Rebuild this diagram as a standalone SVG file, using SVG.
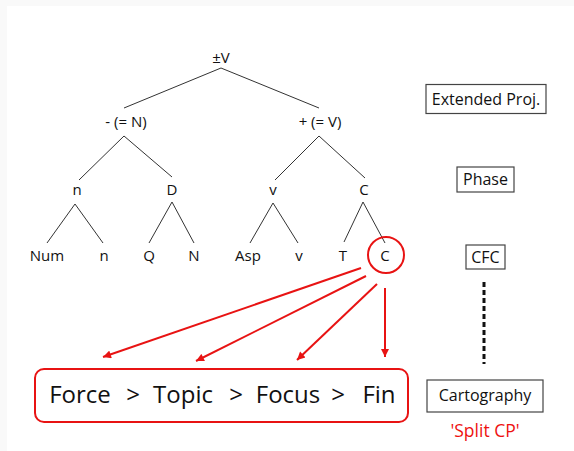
<svg xmlns="http://www.w3.org/2000/svg" width="574" height="451" viewBox="0 0 574 451">
  <defs>
    <style>
      .lbl { font-family: "Open Sans", "Noto Sans", "Liberation Sans", sans-serif; font-size: 15px; fill: #111; text-anchor: middle; }
      .box { fill: #fff; stroke: #444; stroke-width: 1.2; }
      .boxt { font-family: "Open Sans", "Noto Sans", "Liberation Sans", sans-serif; font-size: 16px; fill: #111; text-anchor: middle; }
      .tree line { stroke: #333; stroke-width: 1; }
      .arr line { stroke: #e81313; stroke-width: 2; marker-end: url(#ah); }
      .big { font-family: "Open Sans", "Noto Sans", "Liberation Sans", sans-serif; font-size: 24px; fill: #111; text-anchor: middle; }
      .red { font-family: "Open Sans", "Noto Sans", "Liberation Sans", sans-serif; font-size: 17.5px; fill: #ee1111; text-anchor: middle; }
    </style>
    <marker id="ah" viewBox="0 0 10 10" refX="10" refY="5" markerWidth="10" markerHeight="8" markerUnits="userSpaceOnUse" orient="auto">
      <path d="M0,0 L10,5 L0,10 z" fill="#e81313"/>
    </marker>
  </defs>
  <rect x="0" y="0" width="574" height="451" fill="#f9f9f9"/>
  <rect x="7" y="6" width="567" height="445" fill="#fff"/>

  <g id="connectors">
    <g class="tree">
      <line x1="221" y1="68" x2="124" y2="108"/>
      <line x1="221" y1="68" x2="319" y2="108"/>
      <line x1="124" y1="136" x2="79" y2="180"/>
      <line x1="124" y1="136" x2="172" y2="177"/>
      <line x1="75" y1="204" x2="47" y2="243"/>
      <line x1="75" y1="204" x2="103" y2="243"/>
      <line x1="172" y1="202" x2="149" y2="243"/>
      <line x1="172" y1="202" x2="194" y2="243"/>
      <line x1="319" y1="136" x2="275" y2="180"/>
      <line x1="319" y1="136" x2="365" y2="178"/>
      <line x1="273" y1="203" x2="250" y2="243"/>
      <line x1="273" y1="203" x2="298" y2="243"/>
      <line x1="363" y1="202" x2="344" y2="242"/>
      <line x1="363" y1="202" x2="385" y2="243"/>
    </g>
    <g class="arr">
      <line x1="361" y1="268" x2="103" y2="357"/>
      <line x1="366" y1="276" x2="196" y2="361"/>
      <line x1="377" y1="284" x2="297" y2="360"/>
      <line x1="385" y1="288" x2="385" y2="357"/>
    </g>
    <line x1="484" y1="282" x2="484" y2="364" stroke="#111" stroke-width="3" stroke-dasharray="5 3"/>
  </g>

  <g id="n-root"><text class="lbl" x="221" y="63">±V</text></g>
  <g id="n-minusN"><text class="lbl" x="126" y="127">- (= N)</text></g>
  <g id="n-plusV"><text class="lbl" x="320" y="127">+ (= V)</text></g>
  <g id="n-n"><text class="lbl" x="77" y="195">n</text></g>
  <g id="n-D"><text class="lbl" x="172" y="195">D</text></g>
  <g id="n-v"><text class="lbl" x="273" y="195">v</text></g>
  <g id="n-C"><text class="lbl" x="364" y="195">C</text></g>
  <g id="n-Num"><text class="lbl" x="47" y="261">Num</text></g>
  <g id="n-n2"><text class="lbl" x="104" y="261">n</text></g>
  <g id="n-Q"><text class="lbl" x="149" y="261">Q</text></g>
  <g id="n-N"><text class="lbl" x="194" y="261">N</text></g>
  <g id="n-Asp"><text class="lbl" x="248" y="261">Asp</text></g>
  <g id="n-v2"><text class="lbl" x="299" y="261">v</text></g>
  <g id="n-T"><text class="lbl" x="343" y="261">T</text></g>
  <g id="n-C2">
    <circle cx="386" cy="255" r="18" fill="none" stroke="#e81313" stroke-width="2"/>
    <text class="lbl" x="385" y="261">C</text>
  </g>

  <g id="n-extproj">
    <rect class="box" x="426" y="84.5" width="120" height="29"/>
    <text class="boxt" x="486" y="104.5">Extended Proj.</text>
  </g>
  <g id="n-phase">
    <rect class="box" x="457" y="167" width="57" height="25"/>
    <text class="boxt" x="485.5" y="185">Phase</text>
  </g>
  <g id="n-cfc">
    <rect class="box" x="466" y="245" width="39" height="24"/>
    <text class="boxt" x="485.5" y="262.5">CFC</text>
  </g>
  <g id="n-carto">
    <rect class="box" x="427" y="380" width="116" height="32"/>
    <text class="boxt" x="485" y="401">Cartography</text>
    <text class="red" x="485" y="437">'Split CP'</text>
  </g>

  <g id="n-split">
    <rect x="35" y="369" width="373" height="53" rx="9" ry="9" fill="#fff" stroke="#e81313" stroke-width="2"/>
    <text class="big" y="403"><tspan x="80">Force</tspan><tspan x="133">&gt;</tspan><tspan x="183">Topic</tspan><tspan x="236">&gt;</tspan><tspan x="288">Focus</tspan><tspan x="338">&gt;</tspan><tspan x="379">Fin</tspan></text>
  </g>
</svg>
